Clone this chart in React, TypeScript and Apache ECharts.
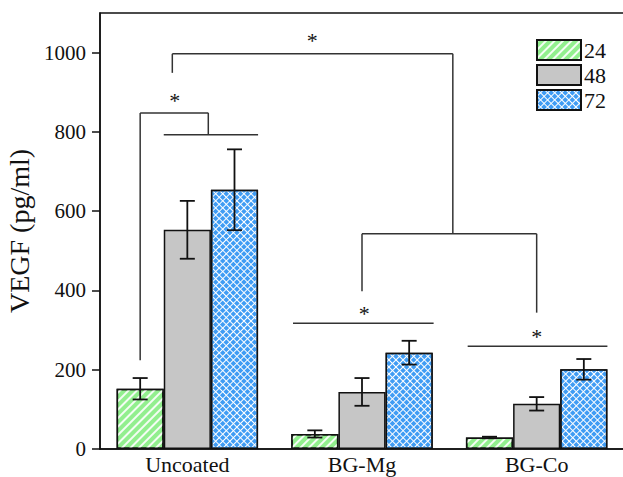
import React, { useEffect, useRef } from "react";
import * as echarts from "echarts";

const categories = ["Uncoated", "BG-Mg", "BG-Co"];
const seriesNames = ["24", "48", "72"];
const values24 = [152, 38, 29];
const errors24 = [27, 9, 2];
const values48 = [553, 144, 114];
const errors48 = [73, 35, 17];
const values72 = [654, 243, 201];
const errors72 = [102, 30, 26];
const yTicks = [0, 200, 400, 600, 800, 1000];

// significance bracket segments: [catOffset1, y1, catOffset2, y2] (offset in category units from first category)
const bracketSegments = [
  [-0.086, 949, -0.086, 997],
  [-0.086, 997, 1.52, 997],
  [1.52, 997, 1.52, 543],
  [1.0, 543, 2.0, 543],
  [1.0, 543, 1.0, 398],
  [2.0, 543, 2.0, 344],
  [-0.27, 224, -0.27, 848],
  [-0.27, 848, 0.12, 848],
  [0.12, 848, 0.12, 793],
  [-0.135, 793, 0.405, 793],
  [0.605, 317, 1.41, 317],
  [1.605, 259, 2.405, 259],
];
// stars: [catOffset, y]
const starMarks = [
  [0.715, 1037],
  [-0.072, 886],
  [1.013, 350],
  [2.0, 291],
];

const FONT = "Liberation Serif";

export default function App() {
  const ref = useRef<HTMLDivElement>(null);
  useEffect(() => {
    document.body.style.margin = "0";
    if (!ref.current) return;
    const chart = echarts.init(ref.current, null, { renderer: "svg" });
    const barGapFrac = 0.19;
    const vals = [values24, values48, values72];
    const errs = [errors24, errors48, errors72];
    const errData: number[][] = [];
    vals.forEach((arr, s) => arr.forEach((v, c) => errData.push([c, v, errs[s][c], s])));

    const barStyles = [
      {
        color: "#92ef8e",
        borderColor: "#111",
        borderWidth: 1.5,
        decal: {
          symbol: "rect",
          symbolSize: 1,
          color: "rgba(255,255,255,0.9)",
          dashArrayX: [1, 0],
          dashArrayY: [1.5, 3.5],
          rotation: -Math.PI / 4,
        },
      },
      { color: "#c6c6c6", borderColor: "#111", borderWidth: 1.5 },
      {
        color: "#ffffff",
        borderColor: "#111",
        borderWidth: 1.5,
        decal: {
          symbol: "rect",
          symbolSize: 1,
          color: "#3f9cf4",
          dashArrayX: [4, 1],
          dashArrayY: [4, 1],
          rotation: Math.PI / 4,
        },
      },
    ];

    const option: any = {
      animation: false,
      grid: {
        left: 100,
        right: -1,
        top: 13,
        bottom: 28,
        containLabel: false,
        outerBoundsMode: "none",
        show: true,
        borderColor: "#111",
        borderWidth: 1.5,
        backgroundColor: "transparent",
      },
      legend: {
        data: seriesNames,
        orient: "vertical",
        left: 531,
        top: 34,
        itemWidth: 44,
        itemHeight: 20,
        itemGap: 3,
        icon: "rect",
        textStyle: { fontFamily: FONT, fontSize: 22, color: "#111", padding: [0, 0, 0, -2] },
      },
      xAxis: {
        type: "category",
        data: categories,
        axisLine: { lineStyle: { color: "#111", width: 1.5 } },
        axisTick: { show: false },
        axisLabel: { fontFamily: FONT, fontSize: 22, color: "#111", margin: 4 },
      },
      yAxis: {
        type: "value",
        min: 0,
        max: 1100,
        interval: 200,
        name: "VEGF (pg/ml)",
        nameLocation: "middle",
        nameGap: 61,
        nameTextStyle: { fontFamily: FONT, fontSize: 28, color: "#111" },
        axisLine: { show: true, lineStyle: { color: "#111", width: 1.5 } },
        axisTick: { show: true, inside: false, length: 8, lineStyle: { color: "#111", width: 1.5 }, customValues: yTicks },
        axisLabel: {
          fontFamily: FONT,
          fontSize: 21,
          color: "#111",
          margin: 14,
          customValues: yTicks,
          formatter: (v: number) => String(v),
        },
        splitLine: { show: false },
      },
      series: [
        ...seriesNames.map((name, i) => ({
          name,
          type: "bar",
          data: vals[i],
          barGap: "0%",
          barCategoryGap: barGapFrac * 100 + "%",
          itemStyle: barStyles[i],
        })),
        {
          type: "custom",
          name: "err",
          z: 10,
          data: errData,
          encode: { x: 0, y: 1 },
          silent: true,
          renderItem: (params: any, api: any) => {
            const c = api.value(0);
            const v = api.value(1);
            const e = api.value(2);
            const s = api.value(3);
            const bw = api.size([1, 0])[0];
            const barW = (bw * (1 - barGapFrac)) / 3;
            const center = api.coord([c, v]);
            const x = center[0] + (s - 1) * barW;
            const top = api.coord([c, v + e])[1];
            const bot = api.coord([c, v - e])[1];
            const hw = 7.5;
            const style = { stroke: "#111", lineWidth: 1.8 };
            return {
              type: "group",
              children: [
                { type: "line", shape: { x1: x, y1: top, x2: x, y2: bot }, style },
                { type: "line", shape: { x1: x - hw, y1: top, x2: x + hw, y2: top }, style },
                { type: "line", shape: { x1: x - hw, y1: bot, x2: x + hw, y2: bot }, style },
              ],
            };
          },
        },
        {
          type: "custom",
          name: "brackets",
          z: 11,
          data: bracketSegments.map((s) => [0, s[1], s[0], s[3], s[2]]),
          encode: { x: 0, y: 1 },
          silent: true,
          renderItem: (params: any, api: any) => {
            const bw = api.size([1, 0])[0];
            const x0 = api.coord([0, 0])[0];
            const y1 = api.coord([0, api.value(1)])[1];
            const y2 = api.coord([0, api.value(3)])[1];
            const x1 = x0 + api.value(2) * bw;
            const x2 = x0 + api.value(4) * bw;
            return {
              type: "line",
              shape: { x1, y1, x2, y2 },
              style: { stroke: "#333", lineWidth: 1.5 },
            };
          },
        },
        {
          type: "custom",
          name: "stars",
          z: 11,
          data: starMarks.map((s) => [0, s[1], s[0]]),
          encode: { x: 0, y: 1 },
          silent: true,
          renderItem: (params: any, api: any) => {
            const bw = api.size([1, 0])[0];
            const x0 = api.coord([0, 0])[0];
            const y = api.coord([0, api.value(1)])[1];
            const x = x0 + api.value(2) * bw;
            return {
              type: "text",
              x,
              y: y + 3,
              style: {
                text: "*",
                fill: "#111",
                font: `22px "${FONT}"`,
                align: "center",
                verticalAlign: "middle",
              },
            };
          },
        },
      ],
    };
    chart.setOption(option);
    return () => chart.dispose();
  }, []);
  return <div ref={ref} style={{ width: 623, height: 477 }} />;
}
